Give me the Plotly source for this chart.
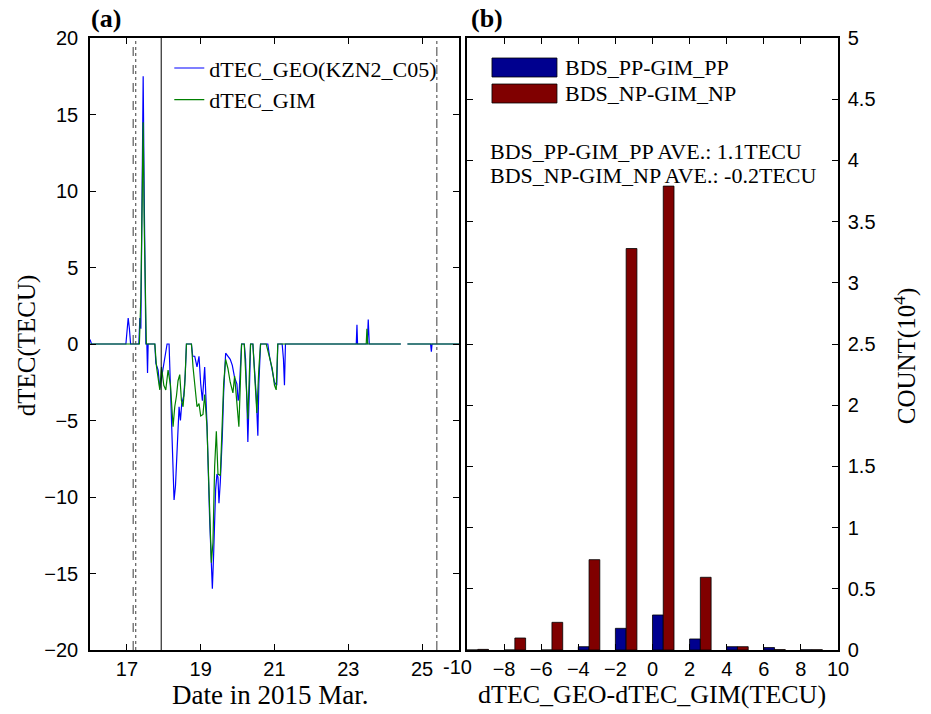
import plotly.graph_objects as go

# ---------------- data: panel (a) ----------------
geo_days = [16.000, 16.041, 16.973, 17.000, 17.035, 17.068, 17.100, 17.324, 17.351, 17.378,
            17.405, 17.441, 17.468, 17.500, 17.514, 17.541, 17.559, 17.576, 17.757, 17.784,
            17.846, 17.892, 17.965, 18.027, 18.089, 18.143, 18.181, 18.208, 18.251, 18.278,
            18.316, 18.359, 18.414, 18.451, 18.486, 18.541, 18.581, 18.614, 18.749, 18.784,
            18.838, 18.900, 18.954, 19.000, 19.046, 19.108, 19.170, 19.243, 19.289, 19.316,
            19.351, 19.405, 19.441, 19.468, 19.495, 19.532, 19.586, 19.622, 19.676, 19.738,
            19.800, 19.857, 19.919, 19.981, 20.014, 20.035, 20.073, 20.108, 20.181, 20.216,
            20.251, 20.278, 20.324, 20.351, 20.414, 20.459, 20.505, 20.549, 20.576, 20.622,
            20.819, 20.865, 20.938, 21.000, 21.062, 21.089, 21.208, 21.243, 21.270, 21.297,
            23.216, 23.235, 23.251, 23.514, 23.541, 23.568, 24.424, 24.500, 24.603, 25.230,
            25.251, 25.270, 26.000]
geo_vals = [0.3, 0.0, 0.0, 1.0, 1.7, 1.0, 0.0, 0.0, 1.7, 1.0,
            8.0, 17.5, 10.0, 2.0, 0.0, 0.0, -1.9, 0.0, 0.0, -1.25,
            -1.7, -2.9, -1.7, -0.7, 0.0, 0.0, -2.6, -4.75, -8.2, -10.2,
            -9.3, -7.1, -4.1, -5.0, -3.9, -3.4, -2.0, 0.0, 0.0, -0.8,
            -0.8, -1.5, -0.8, -2.6, -3.7, -1.5, -5.2, -11.5, -14.3, -16.0,
            -13.7, -9.5, -8.5, -8.7, -10.4, -9.0, -6.0, -3.2, -0.6, -0.8,
            -1.0, -1.4, -2.2, -2.6, -3.7, -3.5, -1.0, 0.0, 0.0, -1.0,
            -3.6, -6.4, -2.6, 0.0, 0.0, -1.6, -3.4, -6.0, -2.6, 0.0,
            0.0, -0.8, -1.6, -2.5, -2.7, 0.0, 0.0, -1.0, -2.7, 0.0,
            0.0, 1.25, 0.0, 0.0, 1.6, 0.0, 0.0, None, 0.0, 0.0,
            -0.5, 0.0, 0.0]

gim_days = [16.000, 17.338, 17.378, 17.419, 17.441, 17.468, 17.527, 17.757, 17.803, 17.892,
            17.938, 18.000, 18.054, 18.116, 18.181, 18.251, 18.297, 18.343, 18.386, 18.432,
            18.478, 18.522, 18.568, 18.614, 18.749, 18.792, 18.838, 18.900, 18.954, 19.000,
            19.062, 19.108, 19.170, 19.224, 19.262, 19.289, 19.332, 19.378, 19.424, 19.468,
            19.532, 19.586, 19.622, 19.676, 19.738, 19.800, 19.873, 19.919, 19.981, 20.035,
            20.073, 20.108, 20.181, 20.235, 20.278, 20.324, 20.351, 20.414, 20.459, 20.522,
            20.576, 20.622, 20.776, 20.865, 20.938, 21.000, 21.046, 21.089, 23.486, 23.505,
            23.527, 24.424, 24.500, 24.603, 26.000]
gim_vals = [0.0, 0.0, 3.0, 10.0, 14.5, 8.0, 0.0, 0.0, -1.5, -3.0,
            -1.5, -2.7, -3.0, -1.7, -2.7, -5.4, -4.1, -3.4, -2.4, -2.0,
            -3.7, -4.1, -2.7, 0.0, 0.0, -1.5, -2.7, -4.1, -3.9, -4.7,
            -4.6, -3.3, -5.4, -9.8, -13.7, -14.3, -13.0, -8.0, -5.7, -8.5,
            -8.6, -5.2, -2.6, -1.0, -1.6, -2.5, -3.2, -2.1, -3.6, -5.4,
            -2.7, 0.0, 0.0, -2.3, -4.9, -1.6, 0.0, 0.0, -2.3, -4.5,
            -1.6, 0.0, 0.0, -0.8, -1.6, -2.7, -3.0, 0.0, 0.0, 1.0,
            0.0, 0.0, None, 0.0, 0.0]

event_days = [17.17, 17.24, 17.93, 25.40]
event_dash = ["dash", "dot", "solid", "dashdot"]
date_ticks = [17, 19, 21, 23, 25]

# ---------------- data: panel (b) ----------------
bin_centers = [-9, -7, -5, -3, -1, 1, 3, 5, 7, 9]
pp_counts = [0.0, 0.0, 0.0, 0.027, 0.177, 0.286, 0.09, 0.027, 0.02, 0.002]   # x 10^4
np_counts = [0.005, 0.098, 0.226, 0.738, 3.28, 3.79, 0.594, 0.027, 0.003, 0.002]
diff_ticks = [-8, -6, -4, -2, 0, 2, 4, 6, 8, 10]
pp_label = "BDS_PP-GIM_PP"
np_label = "BDS_NP-GIM_NP"
ave_texts = ["BDS_PP-GIM_PP AVE.: 1.1TECU", "BDS_NP-GIM_NP AVE.: -0.2TECU"]

SERIF = "Liberation Serif, Times New Roman, serif"
SANS = "Liberation Sans, Arial, sans-serif"
BLUE_BAR = "rgb(0,0,143)"
RED_BAR = "rgb(128,0,0)"

fig = go.Figure()

fig.add_trace(go.Scatter(x=geo_days, y=geo_vals, mode="lines", name="dTEC_GEO(KZN2_C05)",
                         line=dict(color="rgb(0,0,255)", width=1.2), xaxis="x", yaxis="y",
                         connectgaps=False))
fig.add_trace(go.Scatter(x=gim_days, y=gim_vals, mode="lines", name="dTEC_GIM",
                         line=dict(color="rgb(0,128,0)", width=1.2), xaxis="x", yaxis="y",
                         connectgaps=False))

bw = 0.58
fig.add_trace(go.Bar(x=bin_centers, y=pp_counts, width=bw, offset=-1.0, name=pp_label,
                     marker=dict(color=BLUE_BAR, line=dict(color="black", width=0.8)),
                     xaxis="x2", yaxis="y2", showlegend=False))
fig.add_trace(go.Bar(x=bin_centers, y=np_counts, width=bw, offset=-1.0 + bw, name=np_label,
                     marker=dict(color=RED_BAR, line=dict(color="black", width=0.8)),
                     xaxis="x2", yaxis="y2", showlegend=False))

shapes = []
for d, ds in zip(event_days, event_dash):
    shapes.append(dict(type="line", xref="x", yref="y domain", x0=d, x1=d, y0=0, y1=1,
                       line=dict(color="black" if ds == "solid" else "rgb(60,60,60)",
                                 width=1, dash=ds), layer="above"))
# legend boxes panel (b)
shapes.append(dict(type="rect", xref="paper", yref="paper", x0=0.5374, x1=0.6243,
                   y0=0.9363, y1=0.9673, fillcolor=BLUE_BAR, line=dict(color="black", width=0.8)))
shapes.append(dict(type="rect", xref="paper", yref="paper", x0=0.5374, x1=0.6243,
                   y0=0.8938, y1=0.9248, fillcolor=RED_BAR, line=dict(color="black", width=0.8)))

ann = []
ann.append(dict(text=pp_label, x=0.633, y=0.9518, xref="paper", yref="paper", xanchor="left",
                yanchor="middle", showarrow=False, font=dict(family=SERIF, size=22, color="black")))
ann.append(dict(text=np_label, x=0.633, y=0.9101, xref="paper", yref="paper", xanchor="left",
                yanchor="middle", showarrow=False, font=dict(family=SERIF, size=22, color="black")))
ann.append(dict(text=ave_texts[0], x=0.5315, y=0.8142, xref="paper", yref="paper", xanchor="left",
                yanchor="middle", showarrow=False, font=dict(family=SERIF, size=22, color="black")))
ann.append(dict(text=ave_texts[1], x=0.5315, y=0.7761, xref="paper", yref="paper", xanchor="left",
                yanchor="middle", showarrow=False, font=dict(family=SERIF, size=22, color="black")))
ann.append(dict(text="<b>(a)</b>", x=-0.001, y=1.005, xref="paper", yref="paper", xanchor="left",
                yanchor="bottom", showarrow=False, font=dict(family=SERIF, size=26, color="black")))
ann.append(dict(text="<b>(b)</b>", x=0.507, y=1.005, xref="paper", yref="paper", xanchor="left",
                yanchor="bottom", showarrow=False, font=dict(family=SERIF, size=26, color="black")))
ann.append(dict(text="Date in 2015 Mar.", x=0.2406, y=-0.0735, xref="paper", yref="paper",
                xanchor="center", yanchor="middle", showarrow=False,
                font=dict(family=SERIF, size=27, color="black")))
ann.append(dict(text="dTEC_GEO-dTEC_GIM(TECU)", x=0.7513, y=-0.0735, xref="paper", yref="paper",
                xanchor="center", yanchor="middle", showarrow=False,
                font=dict(family=SERIF, size=26, color="black")))
ann.append(dict(text="dTEC(TECU)", x=-0.0842, y=0.498, xref="paper", yref="paper", textangle=-90,
                xanchor="center", yanchor="middle", showarrow=False,
                font=dict(family=SERIF, size=25, color="black")))
ann.append(dict(text="COUNT(10<sup>4</sup>)", x=1.0896, y=0.480, xref="paper", yref="paper",
                textangle=-90, xanchor="center", yanchor="middle", showarrow=False,
                font=dict(family=SERIF, size=25, color="black")))
ann.append(dict(text="-10", x=-10, xref="x2", y=-0.0278, yref="paper", xshift=-9,
                xanchor="center", yanchor="middle", showarrow=False,
                font=dict(family=SANS, size=20, color="black")))

axis_common = dict(showline=True, linecolor="black", linewidth=1.5, mirror="ticks",
                   ticks="inside", ticklen=6, tickcolor="black", tickwidth=1,
                   showgrid=False, zeroline=False,
                   tickfont=dict(family=SANS, size=20, color="black"))

fig.update_layout(
    width=931, height=714,
    margin=dict(l=90, r=93, t=38, b=64),
    paper_bgcolor="white", plot_bgcolor="white",
    barmode="overlay",
    showlegend=True,
    legend=dict(x=0.106, y=0.985, xanchor="left", yanchor="top", bgcolor="rgba(0,0,0,0)",
                borderwidth=0, font=dict(family=SERIF, size=22, color="black"),
                tracegroupgap=0, itemwidth=30),
    xaxis=dict(domain=[0, 0.4933], range=[16, 26], tickvals=date_ticks, anchor="y",
               **axis_common),
    yaxis=dict(range=[-20, 20], dtick=5, anchor="x", ticklabelstandoff=6, **axis_common),
    xaxis2=dict(domain=[0.504, 1], range=[-10, 10], tickvals=diff_ticks, anchor="y2",
                **axis_common),
    yaxis2=dict(range=[0, 5], dtick=0.5, anchor="x2", side="right", ticklabelstandoff=4,
                **axis_common),
    shapes=shapes,
    annotations=ann,
)

fig.write_html("out.html")
